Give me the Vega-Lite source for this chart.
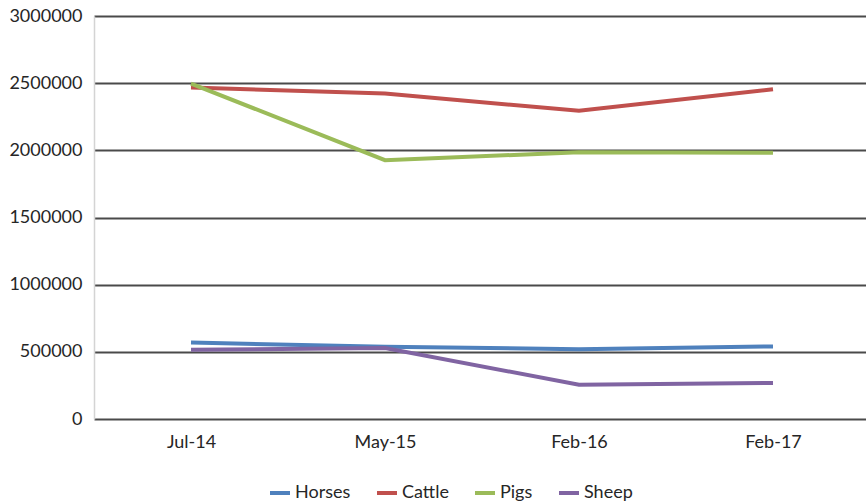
{
  "$schema": "https://vega.github.io/schema/vega-lite/v6.json",
  "autosize": {"type": "none"},
  "width": 776,
  "height": 403,
  "padding": {"left": 94, "top": 16, "right": 0, "bottom": 83},
  "background": "white",
  "data": {
    "values": [
      {"date": "Jul-14", "species": "Horses", "value": 569000},
      {"date": "May-15", "species": "Horses", "value": 538000},
      {"date": "Feb-16", "species": "Horses", "value": 520000},
      {"date": "Feb-17", "species": "Horses", "value": 540000},
      {"date": "Jul-14", "species": "Cattle", "value": 2468000},
      {"date": "May-15", "species": "Cattle", "value": 2423000},
      {"date": "Feb-16", "species": "Cattle", "value": 2294000},
      {"date": "Feb-17", "species": "Cattle", "value": 2455000},
      {"date": "Jul-14", "species": "Pigs", "value": 2497000},
      {"date": "May-15", "species": "Pigs", "value": 1927000},
      {"date": "Feb-16", "species": "Pigs", "value": 1985000},
      {"date": "Feb-17", "species": "Pigs", "value": 1982000},
      {"date": "Jul-14", "species": "Sheep", "value": 515000},
      {"date": "May-15", "species": "Sheep", "value": 528000},
      {"date": "Feb-16", "species": "Sheep", "value": 255000},
      {"date": "Feb-17", "species": "Sheep", "value": 268000}
    ]
  },
  "config": {
    "font": "Lato",
    "view": {"stroke": null}
  },
  "mark": {"type": "line", "strokeWidth": 4, "strokeCap": "butt"},
  "encoding": {
    "x": {
      "field": "date",
      "type": "ordinal",
      "sort": ["Jul-14", "May-15", "Feb-16", "Feb-17"],
      "scale": {"type": "point", "padding": 0.5},
      "axis": {
        "title": null,
        "domain": false,
        "ticks": false,
        "grid": false,
        "labelAngle": 0,
        "labelFont": "Lato",
        "labelFontSize": 18,
        "labelColor": "#262626",
        "labelPadding": 14
      }
    },
    "y": {
      "field": "value",
      "type": "quantitative",
      "scale": {"domain": [0, 3000000], "nice": false},
      "axis": {
        "title": null,
        "values": [0, 500000, 1000000, 1500000, 2000000, 2500000, 3000000],
        "format": "d",
        "domain": true,
        "domainColor": "#d4d4d4",
        "domainWidth": 1.5,
        "ticks": false,
        "grid": true,
        "gridColor": "#4a4a4a",
        "gridWidth": 2,
        "labelFont": "Lato",
        "labelFontSize": 18,
        "labelColor": "#262626",
        "labelPadding": 12
      }
    },
    "color": {
      "field": "species",
      "type": "nominal",
      "scale": {
        "domain": ["Horses", "Cattle", "Pigs", "Sheep"],
        "range": ["#4F81BD", "#C0504D", "#9BBB59", "#8064A2"]
      },
      "legend": {
        "title": null,
        "orient": "none",
        "direction": "horizontal",
        "legendX": 174,
        "legendY": 465,
        "symbolType": "stroke",
        "symbolSize": 400,
        "symbolStrokeWidth": 4,
        "labelFont": "Lato",
        "labelFontSize": 18,
        "labelColor": "#262626",
        "columnPadding": 18,
        "labelOffset": 3
      }
    }
  }
}
